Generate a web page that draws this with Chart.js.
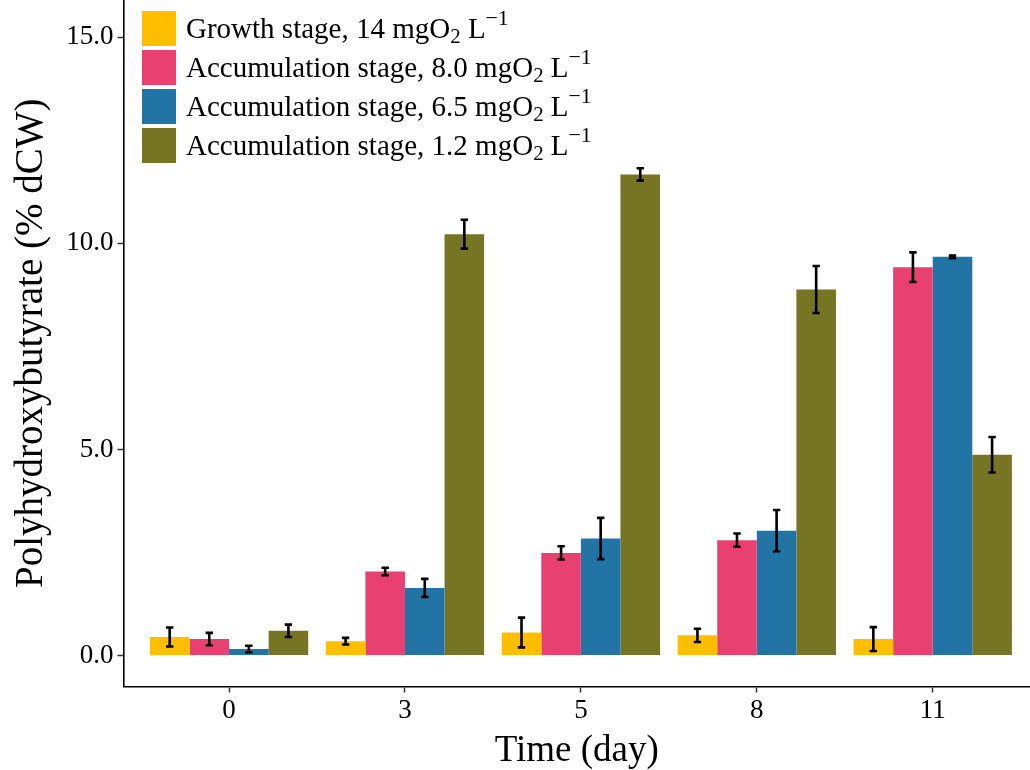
<!DOCTYPE html>
<html>
<head>
<meta charset="utf-8">
<script src="https://cdn.jsdelivr.net/npm/chart.js@4.4.1/dist/chart.umd.min.js"></script>
<style>
  body { margin: 0; background: #fff; }
  #wrap { position: relative; width: 1030px; height: 770px; overflow: hidden; }
  #legend { position: absolute; left: 142px; top: 9px; font-family: "Liberation Serif", "Times New Roman", serif; font-size: 29px; color: #000; }
  .leg-item { display: flex; align-items: center; height: 39px; }
  .leg-box { width: 34px; height: 35px; margin-right: 10px; flex: none; }
  .leg-item sub { font-size: 0.72em; vertical-align: -0.25em; line-height: 0; }
  .leg-item sup { font-size: 0.75em; vertical-align: 0.6em; line-height: 0; }
</style>
</head>
<body>
<div id="wrap">
  <canvas id="chart" width="1030" height="770"></canvas>
  <div id="legend"></div>
</div>
<script>
const days = ['0', '3', '5', '8', '11'];
const seriesNames = [
  'Growth stage, 14 mgO<sub>2</sub> L<sup>\u22121</sup>',
  'Accumulation stage, 8.0 mgO<sub>2</sub> L<sup>\u22121</sup>',
  'Accumulation stage, 6.5 mgO<sub>2</sub> L<sup>\u22121</sup>',
  'Accumulation stage, 1.2 mgO<sub>2</sub> L<sup>\u22121</sup>'
];
const growth14 = [0.45, 0.35, 0.56, 0.49, 0.40];
const growth14Err = [0.23, 0.08, 0.36, 0.16, 0.29];
const accum80 = [0.40, 2.04, 2.49, 2.80, 9.42];
const accum80Err = [0.15, 0.09, 0.16, 0.16, 0.36];
const accum65 = [0.16, 1.64, 2.84, 3.03, 9.67];
const accum65Err = [0.08, 0.22, 0.50, 0.50, 0.03];
const accum12 = [0.60, 10.22, 11.67, 8.88, 4.87];
const accum12Err = [0.15, 0.35, 0.15, 0.57, 0.43];
const yTicks = [0, 5, 10, 15];
const COLORS = ['#FFBF00', '#E84071', '#2274A5', '#767524'];

const FONT = '"Liberation Serif", "Times New Roman", serif';
const values = [growth14, accum80, accum65, accum12];
const errors = [growth14Err, accum80Err, accum65Err, accum12Err];

// error bars drawn on top of the bars
const errorBars = {
  id: 'errorBars',
  afterDatasetsDraw(chart) {
    const ctx = chart.ctx;
    const y = chart.scales.y;
    ctx.save();
    ctx.strokeStyle = '#000';
    ctx.lineWidth = 2.6;
    values.forEach((vals, i) => {
      const meta = chart.getDatasetMeta(i);
      meta.data.forEach((bar, j) => {
        const top = y.getPixelForValue(vals[j] + errors[i][j]);
        const bot = y.getPixelForValue(vals[j] - errors[i][j]);
        const x = bar.x, cap = 3.7;
        ctx.beginPath();
        ctx.moveTo(x, top); ctx.lineTo(x, bot);
        ctx.moveTo(x - cap, top); ctx.lineTo(x + cap, top);
        ctx.moveTo(x - cap, bot); ctx.lineTo(x + cap, bot);
        ctx.stroke();
      });
    });
    ctx.restore();
  }
};

const datasets = values.map((vals, i) => ({
  label: seriesNames[i],
  data: vals.map((v, j) => ({ x: j, y: v })),
  backgroundColor: COLORS[i],
  borderWidth: 0,
  categoryPercentage: 0.9,
  barPercentage: 1.0
}));

new Chart(document.getElementById('chart').getContext('2d'), {
  type: 'bar',
  data: { datasets },
  options: {
    responsive: false,
    animation: false,
    layout: { padding: 0 },
    plugins: { legend: { display: false }, tooltip: { enabled: false } },
    scales: {
      x: {
        type: 'linear',
        offset: false,
        min: -0.6,
        max: 4.553,
        afterBuildTicks: s => { s.ticks = days.map((_, i) => ({ value: i })); },
        afterFit: s => { s.height = 83.5; },
        ticks: { callback: v => days[v], color: '#000', font: { family: FONT, size: 27 }, padding: 2, maxRotation: 0 },
        grid: { display: true, drawOnChartArea: false, tickLength: 6, color: '#333', tickWidth: 1.5, offset: false },
        border: { color: '#000', width: 1.6 },
        title: { display: true, text: 'Time (day)', color: '#000', font: { family: FONT, size: 37, lineHeight: 1.0 }, padding: { top: 0, bottom: 0 } }
      },
      y: {
        min: -0.75,
        max: 15.9,
        afterBuildTicks: s => { s.ticks = yTicks.map(v => ({ value: v })); },
        afterFit: s => { s.width = 123.5; s.paddingTop = 0; s.paddingBottom = 0; },
        ticks: { callback: v => v.toFixed(1), color: '#000', font: { family: FONT, size: 27 }, padding: 4 },
        grid: { display: true, drawOnChartArea: false, tickLength: 6, color: '#333', tickWidth: 1.5 },
        border: { color: '#000', width: 1.6 },
        title: { display: true, text: 'Polyhydroxybutyrate (% dCW)', color: '#000', font: { family: FONT, size: 39, lineHeight: 1.0 }, padding: { top: 12, bottom: 0 } }
      }
    }
  },
  plugins: [errorBars]
});

document.getElementById('legend').innerHTML = seriesNames.map((name, i) => `
  <div class="leg-item">
    <span class="leg-box" style="background:${COLORS[i]}"></span>
    <span>${name}</span>
  </div>`).join('');
</script>
</body>
</html>
